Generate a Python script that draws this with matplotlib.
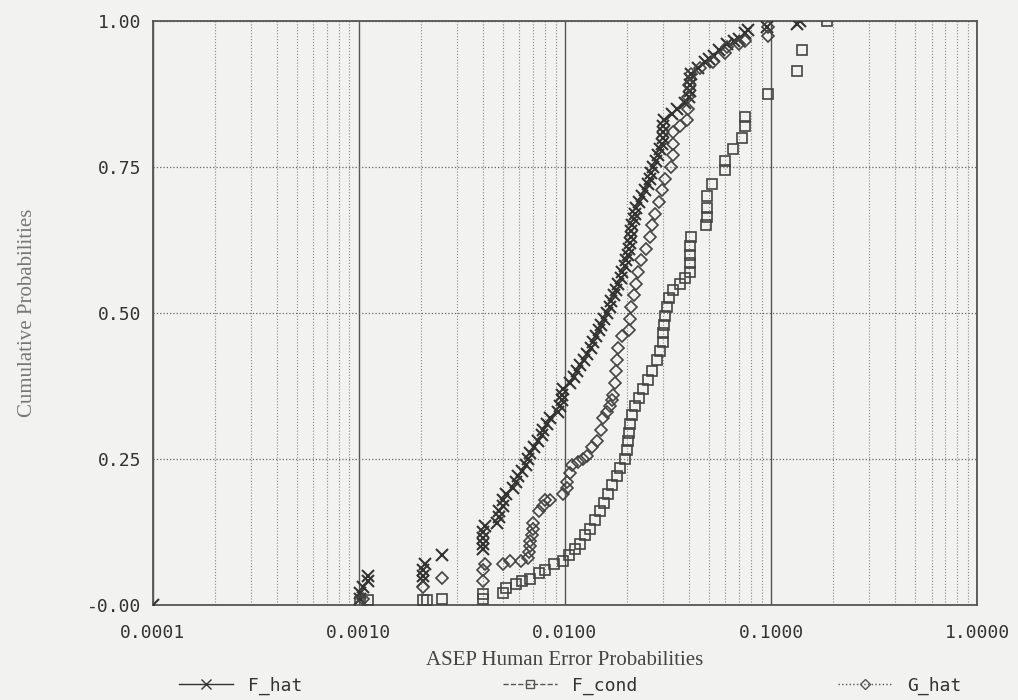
import matplotlib
matplotlib.use('Agg')
import matplotlib.pyplot as plt
from matplotlib.lines import Line2D
from matplotlib.ticker import FixedLocator, LogLocator, NullFormatter

# values
fhat_x = [0.0001,
          0.00101, 0.00101, 0.00105, 0.00111, 0.00111,
          0.00205, 0.00205, 0.00205, 0.0021, 0.00253,
          0.0040, 0.0040, 0.0040, 0.0040, 0.0041,
          0.0047, 0.0048, 0.0048, 0.0050, 0.0050, 0.0052,
          0.0056, 0.0058, 0.0059, 0.0062, 0.0065, 0.0066, 0.0068, 0.0071, 0.0074,
          0.0077, 0.0078, 0.0082, 0.0085, 0.0092, 0.0095, 0.0097, 0.0097, 0.0098,
          0.0106, 0.0110, 0.0114, 0.0118, 0.0124, 0.0128, 0.0134, 0.0137, 0.0142,
          0.0146, 0.0150, 0.0155, 0.0160, 0.0165, 0.0168, 0.0172, 0.0177, 0.0180,
          0.0186, 0.0190, 0.0195, 0.0198, 0.0202, 0.0204, 0.0206, 0.0208, 0.0210,
          0.0212, 0.0215, 0.0218, 0.0222, 0.0228, 0.0236, 0.0245, 0.0252, 0.0258,
          0.0262, 0.0267, 0.0275, 0.0283, 0.0290, 0.0295, 0.0298, 0.0299, 0.0300,
          0.0302, 0.0330, 0.0350, 0.0380, 0.0400, 0.0404, 0.0404, 0.0406, 0.0410,
          0.0440, 0.0480, 0.0500, 0.0530, 0.0560, 0.0611, 0.0660, 0.0700, 0.0750,
          0.0770, 0.0960, 0.134, 0.138]
fhat_y = [0.0,
          0.01, 0.02, 0.03, 0.04, 0.05,
          0.04, 0.05, 0.06, 0.07, 0.085,
          0.095, 0.105, 0.115, 0.125, 0.135,
          0.14, 0.15, 0.16, 0.17, 0.18, 0.19,
          0.20, 0.21, 0.22, 0.23, 0.24, 0.25, 0.26, 0.27, 0.28,
          0.29, 0.30, 0.31, 0.32, 0.33, 0.34, 0.35, 0.36, 0.37,
          0.38, 0.39, 0.40, 0.41, 0.42, 0.43, 0.44, 0.45, 0.46,
          0.47, 0.48, 0.49, 0.50, 0.51, 0.52, 0.53, 0.54, 0.55,
          0.56, 0.57, 0.58, 0.59, 0.60, 0.61, 0.62, 0.63, 0.64,
          0.65, 0.66, 0.67, 0.68, 0.69, 0.70, 0.71, 0.72, 0.73,
          0.74, 0.75, 0.76, 0.77, 0.78, 0.79, 0.80, 0.81, 0.82,
          0.83, 0.84, 0.85, 0.86, 0.87, 0.88, 0.89, 0.90, 0.91,
          0.92, 0.93, 0.935, 0.94, 0.95, 0.96, 0.965, 0.97, 0.98,
          0.985, 0.99, 0.995, 1.0]

fcond_x = [0.00101, 0.00111, 0.00205, 0.00215, 0.00253, 0.0040, 0.0040,
           0.0050, 0.0052, 0.0058, 0.0062, 0.0068, 0.0075, 0.0080, 0.0088,
           0.0098, 0.0105, 0.0112, 0.0118, 0.0125, 0.0132, 0.0140, 0.0148,
           0.0155, 0.0162, 0.0170, 0.0178, 0.0185, 0.0195, 0.0200, 0.0203,
           0.0205, 0.0207, 0.0211, 0.0218, 0.0228, 0.0240, 0.0253, 0.0265,
           0.0280, 0.0290, 0.0299, 0.0300, 0.0302, 0.0305, 0.0313, 0.0320,
           0.0334, 0.0360, 0.0380, 0.0404, 0.0404, 0.0404, 0.0406, 0.0410,
           0.0485, 0.0489, 0.0489, 0.0489, 0.0518, 0.0598, 0.0598, 0.0655,
           0.0723, 0.0748, 0.0748, 0.0966, 0.134, 0.141, 0.187]
fcond_y = [0.005, 0.008, 0.008, 0.008, 0.01, 0.01, 0.018,
           0.02, 0.028, 0.035, 0.04, 0.045, 0.055, 0.06, 0.07,
           0.075, 0.085, 0.095, 0.105, 0.12, 0.13, 0.145, 0.16,
           0.175, 0.19, 0.205, 0.22, 0.235, 0.25, 0.265, 0.28,
           0.295, 0.31, 0.325, 0.34, 0.355, 0.37, 0.385, 0.40,
           0.42, 0.435, 0.45, 0.465, 0.48, 0.495, 0.51, 0.525,
           0.54, 0.55, 0.56, 0.57, 0.585, 0.60, 0.615, 0.63,
           0.65, 0.665, 0.68, 0.70, 0.72, 0.745, 0.76, 0.78,
           0.80, 0.82, 0.835, 0.875, 0.915, 0.95, 1.0]

ghat_x = [0.00105, 0.00205, 0.00253,
          0.0040, 0.0040, 0.0041,
          0.0050, 0.0054, 0.0061, 0.0066, 0.0067, 0.0068, 0.0068, 0.0069,
          0.0070, 0.0070, 0.0075, 0.0078, 0.0080, 0.0085, 0.0098, 0.0102,
          0.0102, 0.0106, 0.0108, 0.0115, 0.0122, 0.0128, 0.0135, 0.0143,
          0.0150, 0.0153, 0.0160, 0.0165, 0.0170, 0.0171, 0.0174, 0.0177,
          0.0179, 0.0181, 0.0190, 0.0205, 0.0207, 0.0210, 0.0215, 0.0220,
          0.0226, 0.0235, 0.0248, 0.0258, 0.0265, 0.0272, 0.0285, 0.0295,
          0.0305, 0.0325, 0.0334, 0.0334, 0.0334, 0.0361, 0.0390, 0.0395,
          0.0395, 0.0400, 0.0410, 0.0450, 0.0520, 0.0600, 0.0611, 0.0700,
          0.0750, 0.0966, 0.0966]
ghat_y = [0.01, 0.03, 0.046,
          0.04, 0.06, 0.07,
          0.07, 0.075, 0.075, 0.08, 0.09, 0.10, 0.11, 0.12,
          0.13, 0.14, 0.16, 0.17, 0.18, 0.18, 0.19, 0.20,
          0.21, 0.225, 0.24, 0.245, 0.25, 0.255, 0.27, 0.28,
          0.30, 0.32, 0.33, 0.34, 0.35, 0.36, 0.38, 0.40,
          0.42, 0.44, 0.46, 0.47, 0.49, 0.51, 0.53, 0.55,
          0.57, 0.59, 0.61, 0.63, 0.65, 0.67, 0.69, 0.71,
          0.73, 0.75, 0.77, 0.79, 0.81, 0.82, 0.83, 0.85,
          0.87, 0.89, 0.91, 0.92, 0.93, 0.945, 0.955, 0.96,
          0.965, 0.975, 0.99]

x_ticks = [0.0001, 0.001, 0.01, 0.1, 1.0]
x_labels = ['0.0001', '0.0010', '0.0100', '0.1000', '1.0000']
y_ticks = [0.0, 0.25, 0.5, 0.75, 1.0]
y_labels = ['-0.00', '0.25', '0.50', '0.75', '1.00']


def main():
    bg = '#f2f2f0'
    ink = '#333333'
    mono = 'DejaVu Sans Mono'
    serif = 'Liberation Serif'

    fig = plt.figure(figsize=(10.18, 7.0), dpi=100, facecolor=bg)
    ax = fig.add_axes([0.150, 0.136, 0.810, 0.834], facecolor=bg)

    ax.plot(fhat_x, fhat_y, ls='none', marker='x', ms=9, mew=1.5, color=ink, zorder=3)
    ax.plot(fcond_x, fcond_y, ls='none', marker='s', ms=7.5, mew=1.2,
            mfc='none', color='#444444', zorder=3)
    ax.plot(ghat_x, ghat_y, ls='none', marker='D', ms=6.5, mew=1.2,
            mfc='none', color='#444444', zorder=3)

    ax.set_xscale('log')
    ax.set_xlim(0.0001, 1.0)
    ax.set_ylim(0.0, 1.0)

    ax.xaxis.set_major_locator(FixedLocator(x_ticks))
    ax.set_xticklabels(x_labels, fontfamily=mono, fontsize=13, color=ink)
    ax.xaxis.set_minor_locator(LogLocator(base=10, subs=range(2, 10)))
    ax.xaxis.set_minor_formatter(NullFormatter())
    ax.set_yticks(y_ticks)
    ax.set_yticklabels(y_labels, fontfamily=mono, fontsize=13, color=ink)
    ax.tick_params(axis='x', which='both', length=0, pad=14)
    ax.tick_params(axis='y', which='both', length=0, pad=8)

    ax.grid(True, which='major', axis='x', color='#555555', lw=1.0, ls='-')
    ax.grid(True, which='minor', axis='x', color='#888888', lw=0.8, ls=':')
    ax.grid(True, which='major', axis='y', color='#666666', lw=0.9, ls=':')
    ax.set_axisbelow(True)
    for s in ax.spines.values():
        s.set_color('#555555')
        s.set_linewidth(1.3)

    ax.set_xlabel('ASEP Human Error Probabilities', fontfamily=serif,
                  fontsize=15, color='#444444', labelpad=6)
    ax.set_ylabel('Cumulative Probabilities', fontfamily=serif,
                  fontsize=15, color='#777777', labelpad=36)

    handles = [
        Line2D([], [], color=ink, ls='-', lw=1, marker='x', ms=7),
        Line2D([], [], color='#555555', ls='--', lw=1, marker='s', ms=6, mfc='none'),
        Line2D([], [], color='#555555', ls=':', lw=1, marker='D', ms=5, mfc='none'),
    ]
    leg = fig.legend(handles, ['F_hat', 'F_cond', 'G_hat'], ncol=3,
                     loc='lower left', bbox_to_anchor=(0.16, -0.016, 0.80, 0.05),
                     mode='expand', frameon=False, handlelength=3,
                     prop={'family': mono, 'size': 13})
    for t in leg.get_texts():
        t.set_color(ink)

    fig.savefig('out.png', dpi=100, facecolor=bg)


if __name__ == '__main__':
    main()
